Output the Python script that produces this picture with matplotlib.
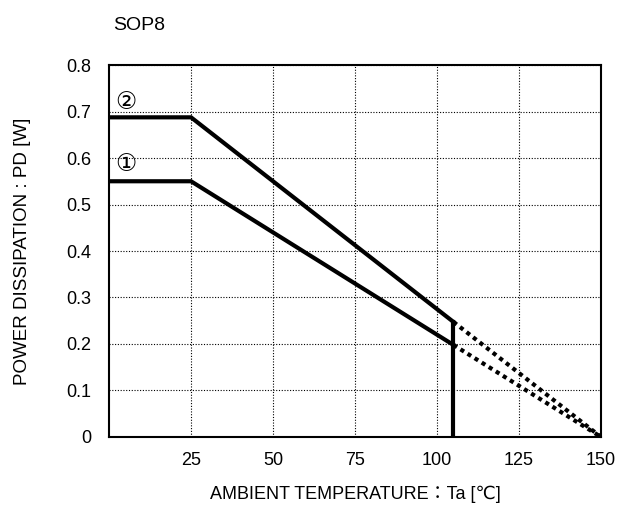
import matplotlib
matplotlib.use("Agg")
import matplotlib.pyplot as plt

plt.rcParams['font.family'] = ['Liberation Sans', 'DejaVu Sans', 'Noto Sans CJK JP']

# derating curves (Ta [degC], Pd [W])
ta_knee = [0, 25, 105]
pd_1 = [0.55, 0.55, 0.198]
pd_2 = [0.6875, 0.6875, 0.2475]
ta_tail = [105, 150]
pd_1_tail = [0.198, 0.0]
pd_2_tail = [0.2475, 0.0]
ta_cut = [105, 105]
pd_cut = [0.0, 0.2475]

x_ticks = [25, 50, 75, 100, 125, 150]
y_ticks = [0, 0.1, 0.2, 0.3, 0.4, 0.5, 0.6, 0.7, 0.8]
y_labels = ['0', '0.1', '0.2', '0.3', '0.4', '0.5', '0.6', '0.7', '0.8']

fig = plt.figure(figsize=(6.17, 5.08), dpi=100)
ax = fig.add_axes([0.1767, 0.1398, 0.7974, 0.7322])

ax.plot(ta_knee, pd_2, color='black', lw=3, solid_joinstyle='miter')
ax.plot(ta_knee, pd_1, color='black', lw=3, solid_joinstyle='miter')
ax.plot(ta_tail, pd_2_tail, color='black', lw=3, linestyle=(0, (1, 1)))
ax.plot(ta_tail, pd_1_tail, color='black', lw=3, linestyle=(0, (1, 1)))
ax.plot(ta_cut, pd_cut, color='black', lw=3)

ax.set_xlim(0, 150)
ax.set_ylim(0, 0.8)
ax.set_xticks(x_ticks)
ax.set_yticks(y_ticks)
ax.set_yticklabels(y_labels)
ax.tick_params(length=0, labelsize=13)
ax.tick_params(axis='x', pad=11)
ax.tick_params(axis='y', pad=13)
ax.grid(True, color='black', lw=0.8, linestyle=(0, (1, 1.5)))
for s in ax.spines.values():
    s.set_linewidth(1.5)

ax.text(2.0, 0.706, '②', fontsize=17, family=['DejaVu Sans'])
ax.text(2.0, 0.573, '①', fontsize=17, family=['DejaVu Sans'])

ax.set_xlabel('AMBIENT TEMPERATURE：Ta [℃]', fontsize=13, labelpad=12)
ax.set_ylabel('POWER DISSIPATION : PD [W]', fontsize=13.5, labelpad=25)
fig.text(0.183, 0.94, 'SOP8', fontsize=14)

fig.savefig('out.png', dpi=100)
